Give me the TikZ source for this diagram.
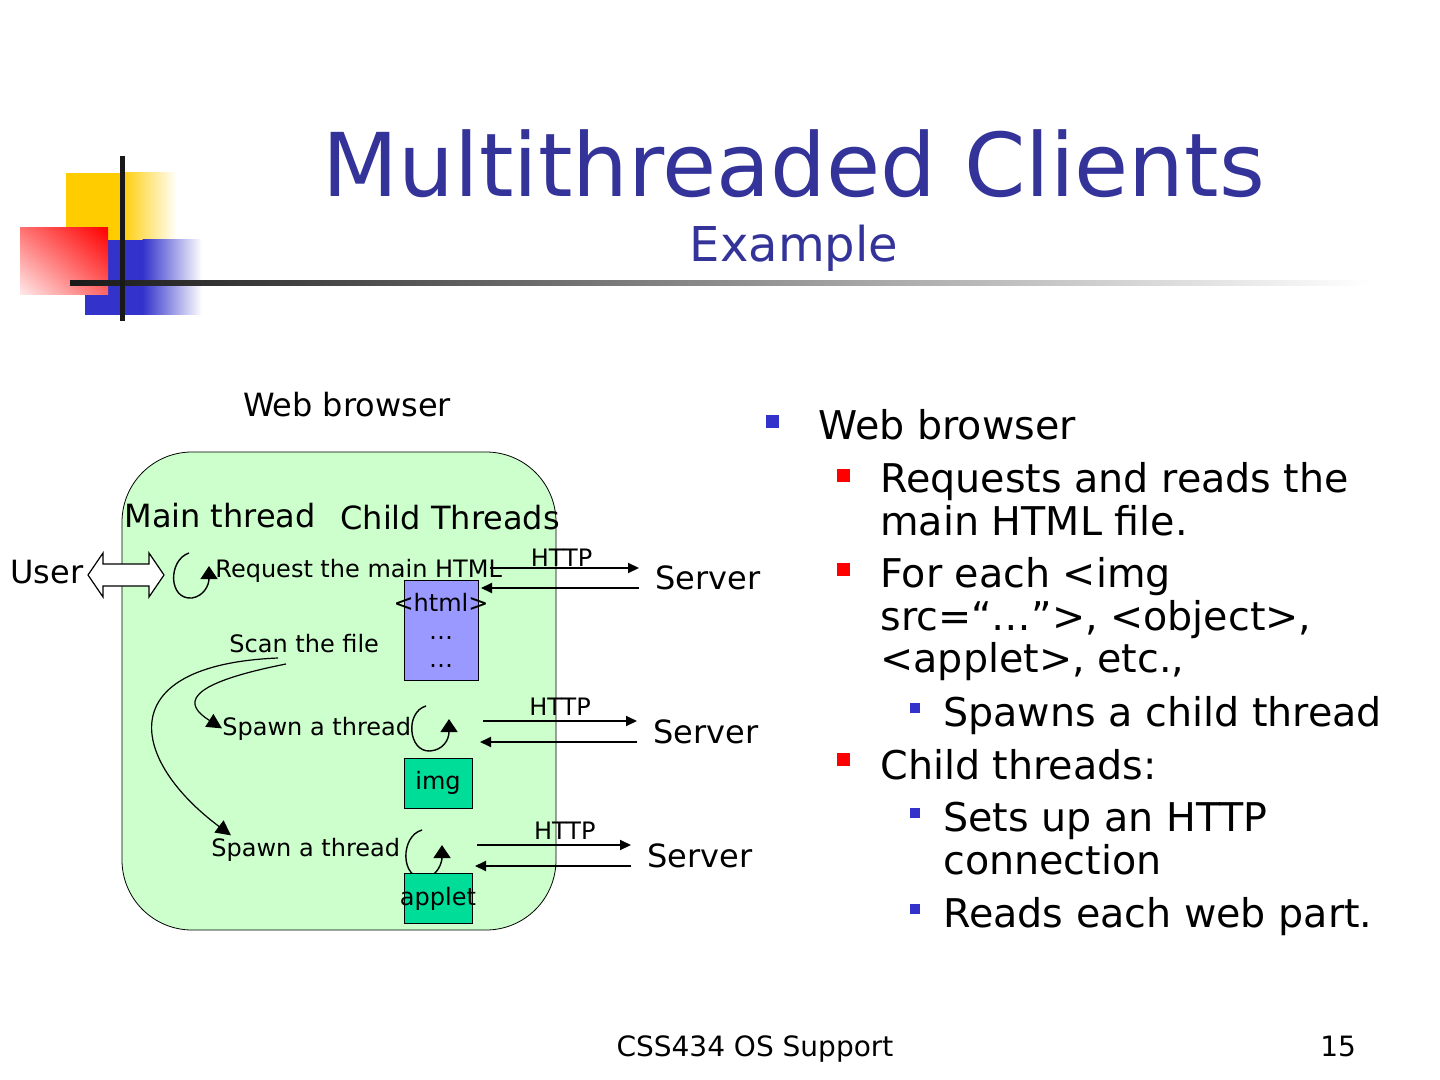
\documentclass[tikz,border=0pt]{standalone}
\usepackage{fontspec}
\setmainfont{DejaVu Sans}
\usepackage{xcolor}
\usetikzlibrary{arrows.meta,positioning,calc,shadings}

\definecolor{titleblue}{RGB}{51,51,153}
\definecolor{bulblue}{RGB}{51,51,204}
\definecolor{logoyellow}{RGB}{255,204,0}
\definecolor{logoblue}{RGB}{51,51,204}
\definecolor{browsergreen}{RGB}{204,255,204}
\definecolor{htmlblue}{RGB}{153,153,255}
\definecolor{partgreen}{RGB}{0,221,153}

\begin{document}
\begin{tikzpicture}[x=0.5pt,y=-0.5pt,>={Triangle[width=5pt,length=5.5pt]},
  txt/.style={inner sep=0,anchor=base west},
  smalltxt/.style={txt,font=\fontsize{12}{14}\selectfont},
  midtxt/.style={txt,font=\fontsize{16}{19}\selectfont},
  bultxt/.style={txt,font=\fontsize{19.8}{21}\selectfont},
  part/.style={draw,fill=partgreen,minimum width=34pt,minimum height=25pt,inner sep=0,font=\fontsize{12}{14}\selectfont},
  http/.style={->,line width=1pt},
  selfloop/.style={->,line width=.7pt,>={Triangle[width=8.5pt,length=6.5pt]}},
  scanline/.style={->,line width=.6pt,>={Triangle[width=7.5pt,length=7.5pt]}}]
\useasboundingbox (0,0) rectangle (1440,1080);

% logo
\fill[logoyellow] (66,173) rectangle (121,240);
\shade[left color=logoyellow,right color=white] (120.5,173) rectangle (177,240);
\fill[logoblue] (85,240) rectangle (143,315);
\shade[left color=logoblue,right color=white] (142.5,240) rectangle (202,315);
\shade[upper left=red!55,upper right=red,lower left=red!8,lower right=red!60] (20,228) rectangle (108,295);
\shade[left color=black!90,right color=white] (70,280.5) rectangle (1370,285.5);
\draw[line width=2.5pt,black!90] (122,156) -- (122,321);

% title
\node[font=\fontsize{44}{50}\selectfont,text=titleblue,inner sep=0,anchor=base] (title) at (794,197) {Multithreaded Clients};
\node[font=\fontsize{24}{28}\selectfont,text=titleblue,inner sep=0,anchor=base] (sub) at (794,262) {Example};

% browser
\node[midtxt,anchor=base] (wbl) at (347,416) {Web browser};
\node[draw,fill=browsergreen,rounded corners=35pt,minimum width=217pt,minimum height=239pt] (browser) at (339,691) {};
\node[midtxt] (mainth) at (124,527) {Main thread};
\node[midtxt] (childth) at (340,529) {Child Threads};
\node[midtxt] (user) at (10,583) {User};
\draw[fill=white,line width=.6pt] (88,575) -- (103,553) -- (103,564) -- (149,564) -- (149,553) -- (164,575)
  -- (149,597) -- (149,586) -- (103,586) -- (103,597) -- cycle;

\node[smalltxt] (req) at (215,577) {Request the main HTML};
\node[smalltxt] (scan) at (229,652) {Scan the file};
\node[smalltxt] (spawnA) at (222,735) {Spawn a thread};
\node[smalltxt] (spawnB) at (211,856) {Spawn a thread};

\node[draw,fill=htmlblue,minimum width=37pt,minimum height=50pt,inner sep=0,align=center,
  font=\fontsize{12}{14}\selectfont] (html) at (441,630) {\makebox[0pt]{<html>}\\…\\…};
\node[part] (img) at (438,783) {img};

% loops
\coordinate (lpA) at (189,553);
\coordinate (lpB) at (426,706);
\coordinate (lpC) at (422,830);
\draw[selfloop] (lpA) .. controls (168,560) and (168,600) .. (192,598) .. controls (204,596) and (209,585) .. (209,566);
\draw[selfloop] (lpB) .. controls (405,712) and (408,752) .. (430,751) .. controls (443,750) and (449,740) .. (449,719);
\draw[selfloop] (lpC) .. controls (400,836) and (400,880) .. (425,878) .. controls (438,876) and (442,862) .. (442,845);
\node[part] (applet) at (438,898.5) {\makebox[0pt]{applet}};

% scan the file
\coordinate (scanA) at (286,664);
\coordinate (scanB) at (278,658);
\draw[scanline] (scanA) .. controls (180,685) and (185,705) .. (spawnA.west);
\draw[scanline] (scanB) .. controls (110,665) and (130,760) .. ($(spawnB.north west)+(20,-2)$);

% servers
\node[midtxt,inner sep=8pt] (srvA) at (639,589) {Server};
\node[midtxt,inner sep=8pt] (srvB) at (637,743) {Server};
\node[midtxt,inner sep=8pt] (srvC) at (631,867) {Server};
\coordinate (outA) at (490,568); \coordinate (inA) at (481,588);
\coordinate (outB) at (483,721); \coordinate (inB) at (480,742);
\coordinate (outC) at (477,845); \coordinate (inC) at (475,866);
\draw[http] (outA) -- node[smalltxt,anchor=base,pos=.48,yshift=1pt]{HTTP} (outA -| srvA.west);
\draw[http] (inA -| srvA.west) -- (inA);
\draw[http] (outB) -- node[smalltxt,anchor=base,pos=.5,yshift=3pt]{HTTP} (outB -| srvB.west);
\draw[http] (inB -| srvB.west) -- (inB);
\draw[http] (outC) -- node[smalltxt,anchor=base,pos=.57,yshift=3pt]{HTTP} (outC -| srvC.west);
\draw[http] (inC -| srvC.west) -- (inC);

% bullets
\fill[bulblue] (766,415) rectangle +(13,13);
\node[bultxt] (lA) at (818,440) {Web browser};
\fill[red] (837,469) rectangle +(13,13);
\node[bultxt] (lA1) at (880,492) {Requests and reads the};
\node[bultxt] (lA1b) at (880,535) {main HTML file.};
\fill[red] (837,563) rectangle +(13,13);
\node[bultxt] (lA2) at (880,587) {For each <img};
\node[bultxt] (lA2b) at (880,630) {src=“…”>, <object>,};
\node[bultxt] (lA2c) at (880,672) {<applet>, etc.,};
\fill[bulblue] (910,703) rectangle +(10,10);
\node[bultxt] (lA2i) at (943,726) {Spawns a child thread};
\fill[red] (837,753) rectangle +(13,13);
\node[bultxt] (lA3) at (880,779) {Child threads:};
\fill[bulblue] (910,808) rectangle +(10,10);
\node[bultxt] (lA3i) at (943,831) {Sets up an HTTP};
\node[bultxt] (lA3ib) at (943,874) {connection};
\fill[bulblue] (910,904) rectangle +(10,10);
\node[bultxt] (lA3ii) at (943,927) {Reads each web part.};

% footer
\node[txt,font=\fontsize{14}{16}\selectfont,anchor=base] (foot) at (755,1056) {CSS434 OS Support};
\node[txt,font=\fontsize{14}{16}\selectfont] (pgno) at (1320,1056) {15};
\end{tikzpicture}
\end{document}
